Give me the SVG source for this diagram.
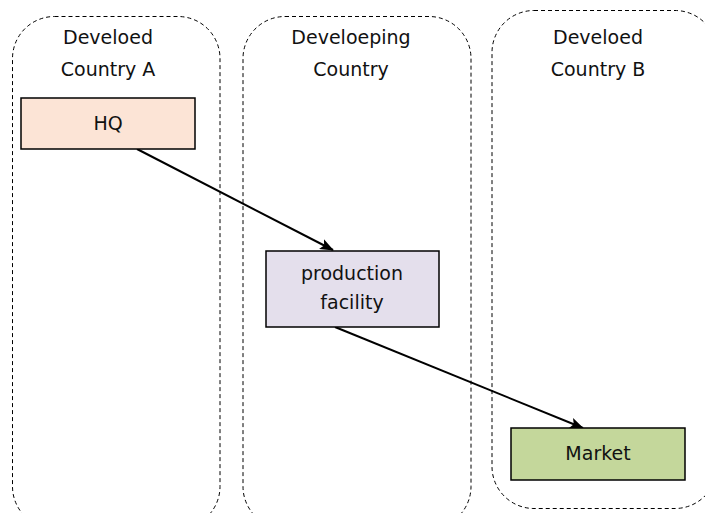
<svg xmlns="http://www.w3.org/2000/svg" width="705" height="513" viewBox="0 0 705 513">
<defs>
<marker id="arr" markerWidth="14" markerHeight="11" refX="13" refY="5.5" orient="auto" markerUnits="userSpaceOnUse">
<path d="M0,0 L14,5.5 L0,11 L3,5.5 Z" fill="#000"/>
</marker>
<style>
.region{fill:none;stroke:#000;stroke-width:1;stroke-dasharray:4 3}
.box{stroke:#000;stroke-width:1.5}
.t{font-family:"DejaVu Sans",Verdana,sans-serif;font-size:19px;fill:#111;text-anchor:middle}
.c{stroke:#000;stroke-width:2;fill:none}
</style>
</defs>
<rect width="705" height="513" fill="#fff"/>
<g id="region-a">
<rect class="region" x="12.5" y="16.5" width="207.5" height="512" rx="42" ry="42"/>
<text class="t" x="108" y="44">Develoed</text>
<text class="t" x="108" y="76">Country A</text>
</g>
<g id="region-dev">
<rect class="region" x="243" y="16.5" width="228" height="512" rx="42" ry="42"/>
<text class="t" x="351" y="44">Develoeping</text>
<text class="t" x="351" y="76">Country</text>
</g>
<g id="region-b">
<rect class="region" x="492" y="10.5" width="225" height="498" rx="42" ry="42"/>
<text class="t" x="598" y="44">Develoed</text>
<text class="t" x="598" y="76">Country B</text>
</g>
<g id="connectors">
<line class="c" x1="137" y1="149" x2="333" y2="250" marker-end="url(#arr)"/>
<line class="c" x1="335" y1="327" x2="583" y2="428" marker-end="url(#arr)"/>
</g>
<g id="hq">
<rect class="box" x="21" y="98" width="174" height="51" fill="#FCE4D6"/>
<text class="t" x="108" y="130">HQ</text>
</g>
<g id="production">
<rect class="box" x="266" y="251" width="173" height="76" fill="#E4DFEC"/>
<text class="t" x="352" y="280">production</text>
<text class="t" x="352" y="309">facility</text>
</g>
<g id="market">
<rect class="box" x="511" y="428" width="174" height="52" fill="#C4D79B"/>
<text class="t" x="598" y="460">Market</text>
</g>
</svg>
